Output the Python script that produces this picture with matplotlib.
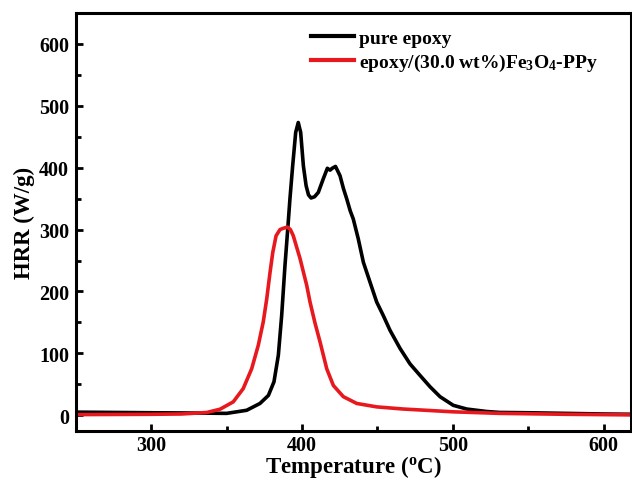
import matplotlib
matplotlib.use('Agg')
import matplotlib.pyplot as plt
from matplotlib.ticker import MultipleLocator

# HRR curves (temperature in C, HRR in W/g)
t_epoxy = [250, 300, 330, 350, 363.3, 372.1, 377.7, 381.4, 384.3, 386.5, 388.7,
           390.5, 392, 393.8, 395.8, 397.5, 399.1, 400.9, 402.7, 404.3, 406, 408.3,
           410.8, 414.1, 416.8, 418.6, 420, 422.2, 425.2, 427.5, 429.6, 432, 434,
           437.3, 440.7, 445.1, 449.5, 453.9, 458.4, 465, 471.6, 478.2, 484.9,
           491.5, 500.3, 509.2, 522.5, 531, 550, 575, 600, 620]
hrr_epoxy = [5, 4, 3.5, 3, 8, 19, 32, 54, 97, 161, 242,
             300, 350, 403, 457, 473, 457, 403, 371, 356, 351, 353,
             360, 382, 399, 396, 399, 402, 387, 366, 350, 330, 317,
             285, 247, 215, 183, 161, 137, 108, 83, 64.5, 46,
             30, 16, 10, 6, 4.5, 4, 3, 2, 1.5]

t_ppy = [250, 300, 320, 336.8, 345.6, 354.4, 361, 366.6, 371, 374.3, 376.6,
         378.8, 380.6, 382.8, 385.4, 387.5, 390.3, 392.3, 394.2, 398.7, 403.1,
         405.3, 408.5, 412, 416.4, 420.8, 427.4, 436.3, 449.5, 467.2, 500.3,
         531, 575, 620]
hrr_ppy = [1, 1.5, 2, 4.4, 9.7, 21.6, 43, 75, 113, 151, 188,
           231, 263, 290, 300, 302, 304, 300, 290, 253, 210,
           183, 150, 118, 75, 48, 30, 19, 13.5, 10, 5.5,
           3, 1.5, 0.5]

labels = ['pure epoxy', 'epoxy/(30.0 wt%)Fe$_3$O$_4$-PPy']

plt.rcParams['font.family'] = 'Liberation Serif'
plt.rcParams['font.weight'] = 'bold'
plt.rcParams['mathtext.fontset'] = 'custom'
plt.rcParams['mathtext.rm'] = 'Liberation Serif:bold'
plt.rcParams['mathtext.default'] = 'rm'

fig = plt.figure(figsize=(6.32, 4.81), dpi=100)
ax = fig.add_axes([0.12, 0.1025, 0.878, 0.8685])

ax.plot(t_epoxy, hrr_epoxy, color='black', lw=2.6, label=labels[0])
ax.plot(t_ppy, hrr_ppy, color='#e8191e', lw=2.6, label=labels[1])

ax.set_xlim(250, 618)
ax.set_ylim(-25, 650)
ax.xaxis.set_major_locator(MultipleLocator(100))
ax.xaxis.set_minor_locator(MultipleLocator(50))
ax.yaxis.set_major_locator(MultipleLocator(100))
ax.yaxis.set_minor_locator(MultipleLocator(50))
ax.tick_params(which='both', direction='in', width=2, labelsize=14.5, pad=5)
ax.tick_params(axis='x', pad=3)
ax.tick_params(which='major', length=5)
ax.tick_params(which='minor', length=3.5)
for s in ax.spines.values():
    s.set_linewidth(2.2)

ax.set_xlabel('Temperature ($^{\\rm o}$C)', fontsize=16.5, fontweight='bold', labelpad=-1)
ax.set_ylabel('HRR (W/g)', fontsize=16.5, fontweight='bold', labelpad=3)

leg = ax.legend(loc='upper left', bbox_to_anchor=(0.392, 1.003), frameon=False,
                fontsize=14, handlelength=2.2, handletextpad=0.3, labelspacing=0.25)
for h in leg.get_lines():
    h.set_linewidth(3)

plt.savefig('out.png', dpi=100)
